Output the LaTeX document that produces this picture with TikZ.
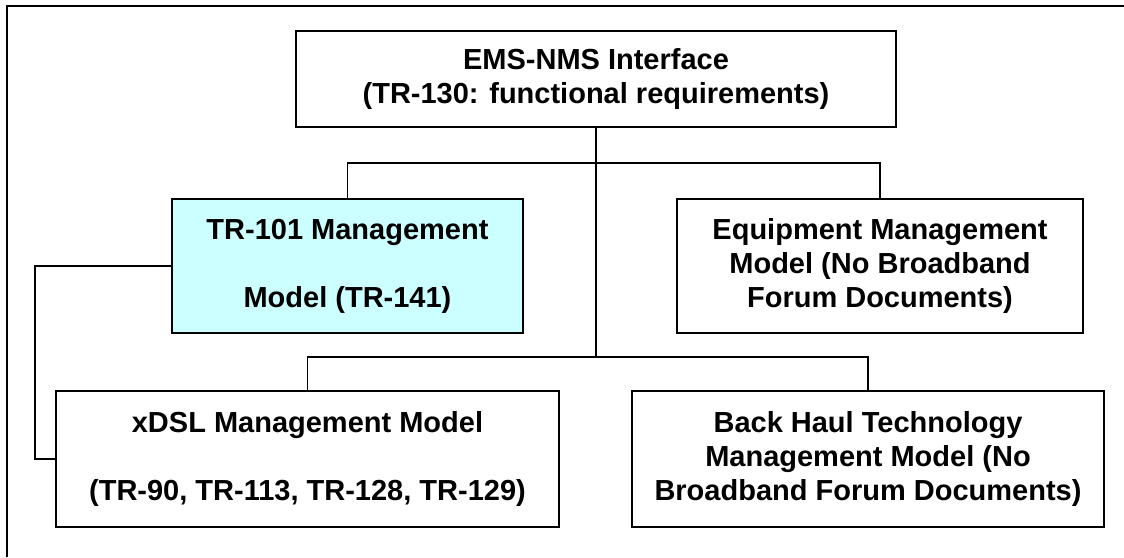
\documentclass[tikz,border=0pt]{standalone}
\usepackage{fontspec}
\setmainfont{Liberation Sans}
\begin{document}
\begin{tikzpicture}[x=1pt, y=-1pt,
    modelbox/.style={draw, line width=1.7pt, inner sep=0pt, align=center,
        font=\bfseries\fontsize{29}{34}\selectfont},
    wire/.style={line width=1.4pt}]
\useasboundingbox (0,0) rectangle (1124,557);

% outer frame (top and left edges only)
\draw[line width=2.4pt] (7,557) -- (7,6) -- (1124,6);

\node[modelbox, minimum width=600, minimum height=96] (ems) at (596,79)
    {EMS-NMS Interface\\(TR-130: functional requirements)};
\node[modelbox, fill={rgb,255:red,204;green,255;blue,255}, minimum width=351, minimum height=134] (trhun) at (347.5,266)
    {TR-101 Management\\[34pt]Model (TR-141)};
\node[modelbox, minimum width=406, minimum height=134] (equip) at (880,266)
    {Equipment Management\\Model (No Broadband\\Forum Documents)};
\node[modelbox, minimum width=503, minimum height=136] (xdsl) at (307.5,459)
    {xDSL Management Model\\[34pt](TR-90, TR-113, TR-128, TR-129)};
\node[modelbox, minimum width=472, minimum height=136] (backhaul) at (868,459)
    {Back Haul Technology\\Management Model (No\\Broadband Forum Documents)};

\coordinate (upj) at (596,163);
\coordinate (lowj) at (596,357);
\coordinate (leftbus) at (35,266);

\draw[wire] (ems.south) -- (lowj);
\foreach \kid in {trhun,equip} {
    \draw[wire] (\kid.north) |- (upj);
}
\foreach \kid in {xdsl,backhaul} {
    \draw[wire] (\kid.north) |- (lowj);
}
\draw[wire] (trhun.west) -- (leftbus) |- (xdsl.west);
\end{tikzpicture}
\end{document}
